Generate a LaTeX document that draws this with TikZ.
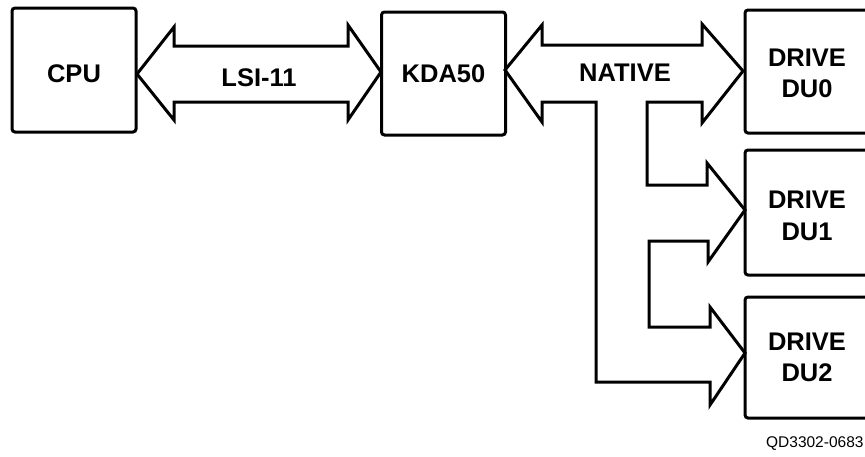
\documentclass[tikz,border=0pt]{standalone}
\usepackage{fontspec}
\setmainfont{Liberation Sans}
\newcommand\lowerby[2]{\raisebox{-#1}[\height][\depth]{#2}}
\begin{document}
\begin{tikzpicture}[x=1pt,y=-1pt,
  line width=3pt,
  box/.style={draw, rectangle, rounded corners=3pt, inner sep=0pt, align=center,
    font=\bfseries\fontsize{25.5}{31}\selectfont, minimum width=124pt},
  fatarrow/.style={draw, line join=miter},
  lbl/.style={font=\bfseries\fontsize{25.5}{31}\selectfont, inner sep=0pt}]
\useasboundingbox (0,0) rectangle (865,456);
\clip (0,0) rectangle (865,456);
% boxes
\node[box, minimum height=124pt] (cpu) at (74,70) {\lowerby{4pt}{CPU}};
\node[box, minimum height=123pt] (kda) at (443.5,73.5) {KDA50};
\node[box, minimum height=123pt] (du0) at (807,71.5) {\lowerby{2pt}{DRIVE}\\\lowerby{2pt}{DU0}};
\node[box, minimum height=125pt] (du1) at (807,212.5) {\lowerby{3pt}{DRIVE}\\\lowerby{4pt}{DU1}};
\node[box, minimum height=121pt] (du2) at (807,357.5) {DRIVE\\DU2};
% LSI-11 bus
\draw[fatarrow] (137,74) -- (174,27) -- (174,46) -- (348,46) -- (348,25) -- (381,72)
  -- (348,120) -- (348,102) -- (174,102) -- (174,120) -- cycle;
\node[lbl] (lsi) at (259,78) {LSI-11};
% NATIVE bus
\draw[fatarrow] (505,70) -- (542,25) -- (542,45) -- (702,45) -- (702,24) -- (743,71)
  -- (702,123) -- (702,102) -- (647,102) -- (647,185) -- (707,185) -- (707,163)
  -- (745,210) -- (708,262) -- (708,241) -- (649,241) -- (649,327) -- (710,327)
  -- (710,307) -- (745,353) -- (710,405) -- (710,382) -- (596,382) -- (596,102)
  -- (542,102) -- (542,122) -- cycle;
\node[lbl] (native) at (625,73) {NATIVE};
% figure id
\node[font=\fontsize{15.5}{18}\selectfont, anchor=east, inner sep=0pt] (fid) at (865,444) {QD3302-0683};
\end{tikzpicture}
\end{document}
